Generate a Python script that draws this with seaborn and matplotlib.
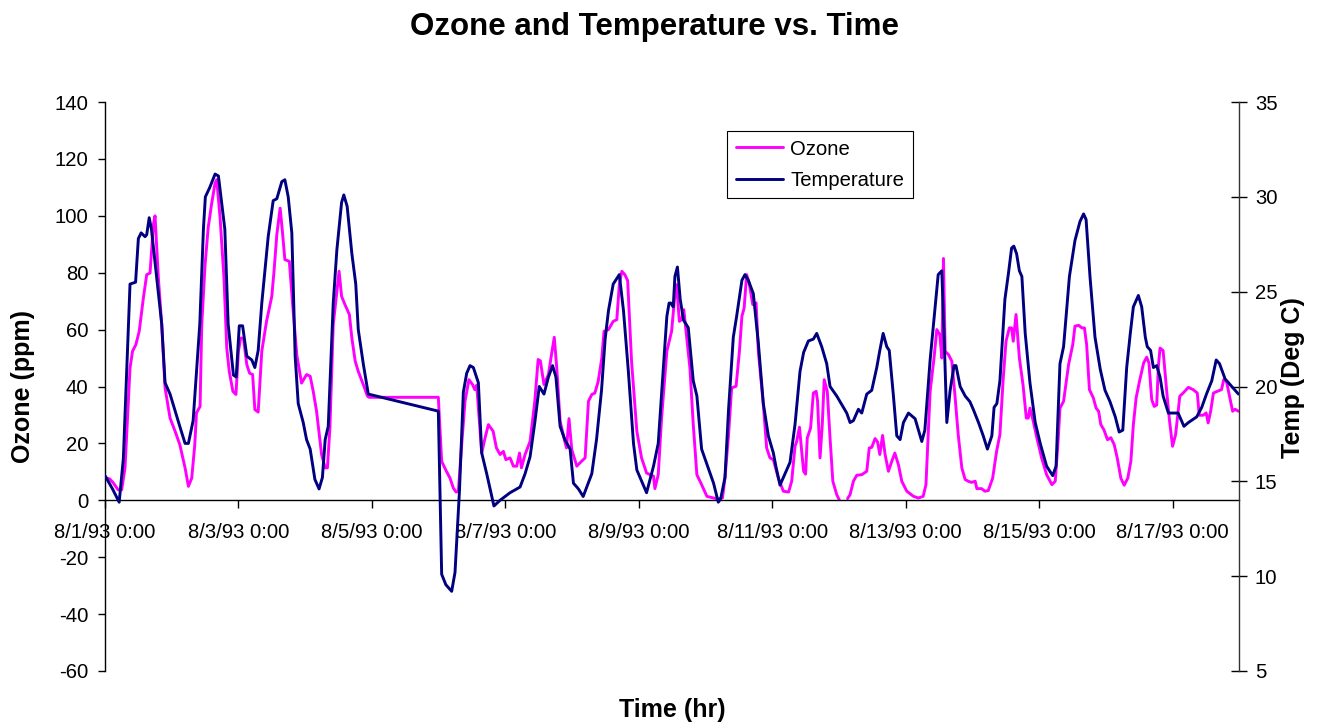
import numpy as np
import pandas as pd
import matplotlib
matplotlib.use("Agg")
import matplotlib.pyplot as plt
import seaborn as sns
from matplotlib.lines import Line2D

# ---------------- data (hours since 8/1/93 0:00) ----------------
ozone_hours = [0, 1.7, 3.0, 4.7, 6.0, 7.2, 9.0, 9.9, 11.1, 12.3, 13.8, 15.0, 16.2, 17.4, 18.0,
               19.2, 20.4, 21.6, 23.4, 25.2, 26.9, 28.8, 30.0, 31.2, 32.3, 32.9, 34.2, 34.8, 36.0,
               37.1, 38.3, 39.6, 40.2, 41.4, 42.8, 43.8, 44.7, 46.0, 47.1, 48.0, 48.8, 49.8, 51.0,
               52.0, 53.1, 53.9, 55.1, 56.4, 58.1, 60.0, 60.8, 61.8, 63.0, 63.8, 64.7, 66.3, 67.5,
               69.0, 70.7, 72.5, 73.8, 74.9, 76.1, 77.9, 79.2, 80.0, 80.9, 82.1, 83.4, 84.2, 85.1,
               86.3, 87.9, 88.8, 90.0, 91.1, 92.9, 94.4, 95.0, 119.9, 121.1, 122.8, 124.1, 125.3,
               126.3, 127.1, 128.3, 129.5, 130.9, 132.2, 133.0, 133.7, 135.5, 136.7, 137.9, 139.6,
               140.8, 142.1, 143.3, 144.2, 145.7, 146.9, 148.1, 149.1, 149.8, 151.1, 152.9, 154.6,
               155.8, 156.6, 157.9, 159.5, 160.6, 161.6, 162.5, 163.7, 165.4, 166.0, 166.9, 167.9,
               169.7, 171.4, 172.7, 173.9, 175.1, 176.2, 177.4, 178.7, 179.5, 181.1, 182.8, 184.1,
               185.0, 185.9, 187.0, 188.0, 189.4, 191.3, 193.0, 194.8, 196.1, 197.3, 197.8, 199.0,
               200.2, 202.1, 203.8, 205.0, 205.6, 206.6, 207.4, 208.2, 209.0, 210.4, 211.6, 212.9,
               214.6, 216.5, 218.9, 220.6, 222.1, 223.0, 224.3, 225.4, 227.0, 228.2, 229.1, 229.9,
               230.8, 231.7, 233.0, 234.2, 235.0, 236.8, 238.0, 239.2, 240.4, 242.2, 244.0, 245.9,
               247.0, 248.2, 248.8, 249.8, 250.6, 251.3, 252.0, 252.6, 253.8, 254.8, 255.8, 256.3,
               257.2, 258.0, 258.7, 259.8, 260.8, 261.8, 263.2, 264.1,
               267.1, 268.0, 269.2, 270.4, 272.2, 274.0, 274.9, 275.8, 277.0, 277.9, 278.7, 279.7,
               280.6, 281.8, 283.0, 284.1, 285.4, 286.6, 288.4, 290.8, 292.6, 294.3, 295.3, 296.8,
               298.2, 299.2, 300.3, 301.0, 301.6, 302.2, 303.4, 304.6, 305.7, 306.9, 308.2, 309.4,
               310.5, 311.7, 313.0, 313.6, 315.3, 316.5, 317.7, 319.3, 320.7, 321.9, 323.1, 324.1,
               325.3, 326.1, 326.7, 327.7, 328.9, 330.2, 331.4, 332.1, 332.7, 333.9, 335.2, 336.9,
               338.7, 340.6, 341.8, 342.9, 343.5, 344.8, 346.6, 348.1, 348.9, 350.2, 351.4, 352.3,
               353.1, 354.1, 355.5, 356.5, 357.4, 358.2, 359.3, 360.6, 361.8, 363.0, 364.1, 365.4,
               366.6, 367.9, 369.0, 369.9, 370.9, 372.1, 373.6, 374.7, 375.5, 376.5, 377.4, 378.3,
               378.9, 379.5, 380.6, 381.9, 382.8, 384.0, 385.1, 386.6, 387.8, 389.7, 391.4, 392.9,
               393.6, 395.0, 396.1, 396.8, 397.7, 398.7, 400.1, 401.6, 402.4, 403.4, 404.4, 405.6,
               406.5, 407.7]
ozone_ppm = [8.0, 7.5, 6.1, 3.7, 3.7, 11.4, 46.5, 52.4, 54.7, 59.4, 71.1, 79.3, 79.9, 96.9, 100.0,
             78.1, 61.8, 39.5, 28.9, 24.3, 19.6, 11.4, 4.9, 7.8, 19.6, 30.7, 33.0, 61.8, 82.8,
             95.7, 103.9, 111.5, 112.7, 99.2, 78.1, 53.5, 45.3, 38.3, 37.2, 52.4, 57.0, 57.0, 47.7,
             44.7, 44.2, 31.9, 31.0, 52.4, 62.9, 71.7, 80.5, 93.4, 102.7, 94.6, 84.6, 84.0, 68.8,
             51.0, 41.2, 44.2, 43.6, 38.3, 31.3, 16.1, 11.4, 11.4, 25.4, 61.8, 73.5, 80.5, 71.7,
             68.8, 65.3, 57.0, 48.9, 45.3, 40.7, 36.6, 36.2, 36.2, 13.7, 10.2, 7.8, 4.3,
             2.9, 3.2, 19.6, 34.8, 42.4, 40.7, 38.9, 40.5, 16.6, 21.9, 26.6, 24.3,
             18.4, 16.1, 17.2, 14.3, 14.9, 12.0, 12.0, 16.6, 11.4, 16.1, 20.7, 34.8,
             49.5, 49.0, 40.7, 44.2, 51.2, 57.3, 46.5, 27.8, 20.7, 18.4, 28.7, 17.8,
             12.0, 13.7, 14.9, 34.8, 37.2, 37.7, 41.8, 50.0, 59.4, 60.0, 62.9, 63.5,
             75.8, 80.5, 79.3, 77.2, 48.9, 24.3, 14.9, 9.6, 9.0, 8.5, 4.1, 9.0,
             28.9, 52.4, 59.4, 72.3, 75.8, 62.9, 63.5, 67.0, 59.4, 46.5, 26.6, 9.0,
             5.5, 1.4, 0.8, 0.5, 0.8, 7.8, 23.1, 39.5, 40.1, 52.4, 64.7, 67.6,
             79.3, 76.4, 68.8, 69.4, 52.4, 33.6, 18.4, 14.9, 14.3, 7.8, 3.2, 2.9,
             6.7, 19.0, 20.7, 25.7, 17.2, 10.2, 9.2, 21.9, 25.4, 37.7, 38.3, 35.0,
             14.9, 26.6, 42.4, 38.3, 21.9, 6.7, 2.0, 0.2,
             0.6, 2.0, 6.7, 8.8, 9.0, 10.2, 18.4, 18.6, 21.7, 20.5, 16.1, 22.8,
             16.1, 10.2, 13.7, 16.6, 12.5, 6.7, 3.2, 1.4, 0.8, 1.4, 5.5, 38.3,
             50.0, 60.0, 58.2, 50.0, 85.0, 52.4, 51.2, 48.9, 37.2, 23.1, 11.4, 7.3,
             6.7, 6.3, 6.7, 4.1, 4.1, 3.2, 3.4, 7.8, 17.2, 23.1, 43.0, 55.9,
             60.6, 60.6, 55.9, 65.3, 50.0, 40.7, 28.9, 28.9, 32.4, 27.8, 21.9, 14.9,
             9.0, 5.5, 6.7, 21.9, 32.4, 34.8, 47.7, 54.7, 61.2, 61.5, 60.6, 60.6,
             54.7, 38.9, 36.0, 32.4, 31.3, 26.6, 24.8, 21.3, 22.0, 19.6, 14.9, 7.8,
             5.3, 7.8, 13.7, 26.6, 36.0, 41.8, 48.3, 50.3, 48.3, 35.4, 33.0, 33.5,
             47.1, 53.5, 52.6, 38.3, 28.9, 19.0, 23.1, 36.6, 37.7, 39.7, 38.9, 37.7,
             29.9, 29.9, 30.7, 27.2, 31.3, 37.7, 38.3, 38.9, 42.4, 41.8, 37.0, 31.3,
             32.0, 31.3]
ozone_missing_after_hour = 264.1  # no ozone readings until 267.1

temp_hours = [0, 2.7, 5.1, 6.6, 9.0, 11.0, 12.0, 13.0, 14.4, 15.0, 15.9, 16.7, 20.4, 21.6, 23.4,
              26.9, 28.8, 30.0, 31.7, 34.1, 35.4, 36.1, 37.7, 39.6, 40.8, 43.1, 44.3, 46.2, 47.2,
              48.3, 49.5, 51.0, 52.8, 53.9, 55.1, 56.4, 58.7, 60.5, 61.8, 63.6, 64.7, 65.9, 67.2,
              68.4, 69.5, 71.3, 72.5, 73.8, 75.5, 77.0, 78.2, 79.2, 80.3, 82.1, 83.4, 85.1, 85.9,
              87.1, 88.8, 90.2, 91.1, 92.9, 94.7, 119.9, 121.1, 122.6, 124.7, 125.9, 127.5, 128.9,
              130.1, 131.3, 132.5, 134.3, 135.5, 137.3, 139.9, 142.1, 145.7, 149.3, 151.1, 152.9,
              154.6, 156.2, 157.9, 159.5, 161.0, 162.2, 163.7, 165.4, 167.3, 168.5, 170.3, 172.0,
              173.3, 175.1, 176.8, 178.6, 179.9, 181.1, 182.8, 185.0, 186.5, 188.2, 190.1, 191.3,
              194.8, 197.3, 199.0, 200.2, 202.1, 202.9, 203.5, 204.4, 205.0, 205.9, 206.9, 208.1,
              209.8, 211.6, 212.9, 214.6, 216.5, 218.9, 220.6, 221.5, 223.0, 224.3, 226.0, 227.2,
              229.1, 230.2, 231.4, 233.2, 235.0, 236.8, 238.6, 240.4, 241.3, 242.8, 244.6, 246.4,
              248.2, 250.0, 251.3, 253.0, 254.8, 256.0, 257.8, 259.6, 260.8, 263.2, 265.6, 266.8,
              268.0, 269.2, 271.0, 272.2, 274.0, 275.8, 277.6, 278.7, 279.9, 281.2, 282.1, 283.6,
              284.8, 286.0, 287.2, 289.0, 291.4, 292.6, 293.8, 294.9, 296.8, 298.6, 299.7, 301.0,
              301.8, 302.8, 304.0, 305.4, 306.1, 307.6, 309.4, 311.1, 312.3, 314.2, 315.9, 317.4,
              319.0, 319.8, 320.8, 321.9, 323.7, 325.0, 326.1, 326.9, 327.9, 328.9, 329.8, 331.0,
              332.7, 334.6, 336.4, 338.7, 340.9, 342.1, 343.5, 344.8, 346.9, 348.9, 350.7, 352.0,
              352.9, 354.3, 356.1, 358.0, 359.7, 361.5, 363.4, 364.8, 366.1, 367.5, 368.8, 369.9,
              371.7, 372.9, 374.2, 374.9, 376.1, 377.1, 378.3, 379.5, 380.6, 382.5, 386.0, 388.1,
              389.7, 392.7, 394.5, 396.2, 398.1, 399.7, 400.9, 402.9, 405.3, 407.7]
temp_degc = [15.3, 14.6, 13.9, 16.2, 25.4, 25.5, 27.8, 28.1, 27.9, 28.0, 28.9, 28.3, 23.3, 20.2, 19.6,
             17.9, 17.0, 17.0, 18.2, 23.3, 28.3, 30.0, 30.5, 31.2, 31.1, 28.3, 23.3, 20.6, 20.5,
             23.2, 23.2, 21.6, 21.4, 21.0, 21.9, 24.4, 27.9, 29.8, 29.9, 30.8, 30.9, 30.0, 28.1,
             21.6, 19.1, 18.1, 17.2, 16.7, 15.1, 14.6, 15.2, 17.2, 17.9, 24.4, 27.2, 29.7, 30.1,
             29.5, 27.0, 25.4, 23.0, 21.2, 19.6, 18.7, 10.1, 9.55, 9.2, 10.2, 14.5, 19.7,
             20.7, 21.1, 21.0, 20.2, 16.5, 15.4, 13.7, 14.0, 14.4, 14.7, 15.4, 16.3,
             18.1, 20.0, 19.6, 20.5, 21.1, 20.5, 17.9, 17.2, 16.7, 14.9, 14.6, 14.2,
             14.7, 15.4, 17.2, 19.8, 22.5, 24.0, 25.4, 25.9, 24.0, 20.9, 17.0, 15.6,
             14.4, 15.8, 17.0, 19.6, 23.7, 24.4, 24.4, 24.2, 25.8, 26.3, 24.6, 23.5,
             23.1, 20.3, 19.5, 16.7, 15.9, 14.9, 13.9, 14.1, 15.2, 18.8, 22.6, 23.7,
             25.6, 25.9, 25.6, 24.9, 22.3, 19.1, 17.4, 16.5, 15.8, 14.8, 15.4, 16.0,
             18.0, 20.8, 21.8, 22.4, 22.5, 22.8, 22.1, 21.2, 20.0, 19.5, 18.9, 18.6,
             18.1, 18.2, 18.8, 18.6, 19.6, 19.8, 21.0, 21.9, 22.8, 22.1, 21.9, 19.5,
             17.4, 17.2, 18.1, 18.6, 18.3, 17.7, 17.1, 17.7, 21.4, 24.2, 25.9, 26.1,
             22.8, 18.1, 19.8, 21.1, 21.1, 20.0, 19.5, 19.2, 18.8, 18.1, 17.4, 16.7,
             17.4, 18.9, 19.1, 20.3, 24.6, 26.0, 27.3, 27.4, 27.0, 26.1, 25.8, 22.8,
             20.2, 18.1, 17.0, 15.8, 15.3, 15.8, 21.2, 22.1, 25.8, 27.7, 28.7, 29.1,
             28.8, 25.8, 22.6, 20.9, 19.8, 19.2, 18.4, 17.6, 17.7, 21.0, 22.8, 24.2,
             24.8, 24.2, 22.6, 22.1, 21.9, 21.0, 21.1, 20.5, 19.5, 18.6, 18.6, 17.9,
             18.1, 18.4, 18.9, 19.6, 20.3, 21.4, 21.2, 20.4, 20.0, 19.6]

tick_hours = [0, 48, 96, 144, 192, 240, 288, 336, 384]
tick_labels = ["8/1/93 0:00", "8/3/93 0:00", "8/5/93 0:00", "8/7/93 0:00", "8/9/93 0:00",
               "8/11/93 0:00", "8/13/93 0:00", "8/15/93 0:00", "8/17/93 0:00"]
ozone_ticks = list(range(-60, 141, 20))
temp_ticks = list(range(5, 36, 5))

# ---------------- plotting ----------------
sns.set_style("white")
plt.rcParams["font.family"] = ["Liberation Sans", "DejaVu Sans"]
plt.rcParams["axes.unicode_minus"] = False
plt.rcParams["text.color"] = "black"
plt.rcParams["axes.labelcolor"] = "black"

oz_df = pd.DataFrame({"hour": ozone_hours, "ozone": ozone_ppm})
oz_df["seg"] = (oz_df["hour"] > ozone_missing_after_hour).astype(int)
t_df = pd.DataFrame({"hour": temp_hours, "temp": temp_degc})

OZ_COLOR = "#FF00FF"
T_COLOR = "#000080"
TICK_FS = 14.6
LABEL_FS = 18

fig = plt.figure(figsize=(13.17, 7.23), dpi=100)
ax1 = fig.add_axes([105 / 1317, 1 - 671 / 723, (1239 - 105) / 1317, (671 - 102) / 723])
sns.lineplot(data=oz_df, x="hour", y="ozone", units="seg", estimator=None, color=OZ_COLOR,
             lw=2.1, ax=ax1, legend=False, sort=False)
ax2 = ax1.twinx()
sns.lineplot(data=t_df, x="hour", y="temp", estimator=None, color=T_COLOR, lw=2.1, ax=ax2,
             legend=False, sort=False)

ax1.set_xlim(0, 407.9)
ax1.set_ylim(-60, 140)
ax2.set_ylim(5, 35)
ax1.set_yticks(ozone_ticks)
ax2.set_yticks(temp_ticks)
ax1.set_xticks(tick_hours)
ax1.set_xticklabels(tick_labels)

for a in (ax1, ax2):
    a.grid(False)
    a.set_facecolor("none")
ax1.spines["top"].set_visible(False)
ax1.spines["right"].set_visible(False)
ax1.spines["bottom"].set_position(("data", 0))
for s in ("top", "bottom", "left"):
    ax2.spines[s].set_visible(False)
for s in ("left", "bottom"):
    ax1.spines[s].set_color("black")
    ax1.spines[s].set_linewidth(1.0)
ax2.spines["right"].set_color("#333333")
ax2.spines["right"].set_linewidth(1.0)

ax1.tick_params(axis="x", direction="out", length=6, width=1, pad=10, labelsize=TICK_FS,
                colors="black", bottom=True)
ax1.tick_params(axis="y", direction="out", length=5, width=1, pad=7, labelsize=TICK_FS,
                colors="black", left=True)
ax2.tick_params(axis="y", direction="inout", length=11, width=1, pad=6, labelsize=TICK_FS,
                colors="black", right=True)

ax1.set_xlabel("Time (hr)", fontsize=LABEL_FS, fontweight="bold")
ax1.xaxis.label.set_va("center")
ax1.xaxis.set_label_coords(0.5, -0.068)
ax1.set_ylabel("Ozone (ppm)", fontsize=LABEL_FS, fontweight="bold")
ax1.yaxis.label.set_va("center")
ax1.yaxis.set_label_coords(-0.0723, 0.5)
ax2.set_ylabel("Temp (Deg C)", fontsize=LABEL_FS, fontweight="bold")
ax2.yaxis.label.set_va("center")
ax2.yaxis.set_label_coords(1.0476, 0.515)

fig.text(0.497, 0.962, "Ozone and Temperature vs. Time", ha="center", va="center",
         fontsize=22.5, fontweight="bold", color="black")

handles = [Line2D([], [], color=OZ_COLOR, lw=2.1), Line2D([], [], color=T_COLOR, lw=2.1)]
leg = ax2.legend(handles, ["Ozone", "Temperature"], loc="upper left",
                 bbox_to_anchor=(0.5485, 0.949), borderaxespad=0, frameon=True,
                 fancybox=False, edgecolor="black", framealpha=1, fontsize=TICK_FS,
                 handlelength=2.35, handletextpad=0.35, labelspacing=0.6, borderpad=0.42)
leg.get_frame().set_linewidth(0.8)

fig.savefig("out.png", dpi=100)
